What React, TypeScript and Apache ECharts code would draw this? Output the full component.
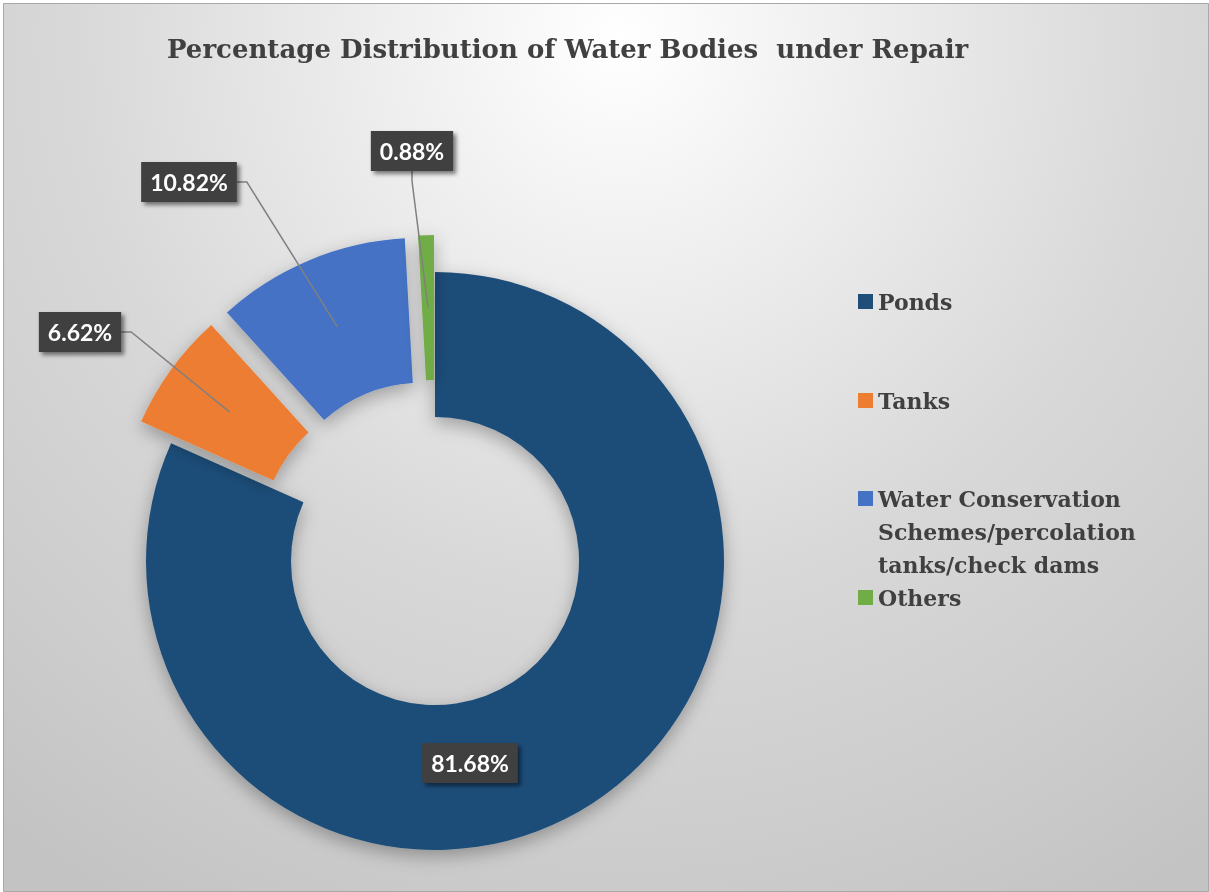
import React, { useEffect, useRef } from 'react';
import * as echarts from 'echarts';

// Share of water bodies under repair, by type (percent)
const categories = ['Ponds', 'Tanks', 'Water Conservation Schemes/percolation tanks/check dams', 'Others'];
const shares = [81.68, 6.62, 10.82, 0.88];
const sliceColors = ['#1f4e79', '#ed7d31', '#4472c4', '#70ad47'];
const explodedSlices = [false, true, true, true];
const legendText = ['Ponds', 'Tanks', 'Water Conservation\nSchemes/percolation\ntanks/check dams', 'Others'];

const TITLE = 'Percentage Distribution of Water Bodies  under Repair';

// ring geometry (px)
const CENTER = [435, 561];
const INNER_R = 144;
const OUTER_R = 289;
const EXPLODE = 37;
// leader lines start mid-ring of the pulled-out slices
const LEADER_R = 254;
const STUB = 10;

// centres of the value boxes, and the side each leader line leaves from
const labelSpots = [
  [470, 763],
  [80, 332],
  [189, 182],
  [412, 151],
];
const leaderSides = ['none', 'right', 'right', 'bottom'];
const legendTops = [285, 384, 482, 581];

// square marker on the first text line of a three-line legend entry
const TALL_ICON = 'path://M0,0L15,0L15,15L0,15Z M0,81L15,81';

const SERIF = '"DejaVu Serif", "Liberation Serif", serif';
const TEXT_GREY = '#404040';

export default function App() {
  const ref = useRef<HTMLDivElement | null>(null);

  useEffect(() => {
    if (!ref.current) return;
    const chart = echarts.init(ref.current, undefined, { renderer: 'svg' });

    const ringData = categories.map((name, i) => ({
      name,
      value: shares[i],
      selected: explodedSlices[i],
      itemStyle: { color: sliceColors[i] },
    }));

    const labelData = categories.map((name, i) =>
      i === 0
        ? { name, value: shares[i], label: { position: 'inside' }, labelLine: { show: false } }
        : { name, value: shares[i] }
    );

    const legends = categories.map((name, i) => {
      const multiLine = legendText[i].includes('\n');
      return {
        data: [name],
        orient: 'vertical',
        left: 858,
        top: legendTops[i],
        padding: 0,
        itemWidth: 15,
        itemHeight: multiLine ? 81 : 15,
        itemGap: 0,
        icon: multiLine ? TALL_ICON : 'rect',
        selectedMode: false,
        itemStyle: { borderWidth: 0 },
        formatter: () => legendText[i],
        textStyle: {
          fontFamily: SERIF,
          fontWeight: 'bold',
          fontSize: 22,
          lineHeight: 33,
          color: TEXT_GREY,
        },
      };
    });

    chart.setOption({
      animation: false,
      graphic: [
        {
          type: 'rect',
          z: -20,
          silent: true,
          shape: { x: 0, y: 0, width: 1209, height: 892 },
          style: { fill: '#ffffff' },
        },
        {
          type: 'rect',
          z: -10,
          silent: true,
          shape: { x: 3.5, y: 3.5, width: 1205, height: 888 },
          style: {
            fill: {
              type: 'radial',
              x: 620,
              y: 40,
              r: 1000,
              global: true,
              colorStops: [
                { offset: 0, color: '#ffffff' },
                { offset: 0.55, color: '#d8d8d8' },
                { offset: 0.8, color: '#cdcdcd' },
                { offset: 1, color: '#c3c3c3' },
              ],
            },
            stroke: '#a9a9a9',
            lineWidth: 1,
          },
        },
      ],
      title: {
        text: TITLE,
        left: 167,
        top: 36,
        padding: 0,
        textStyle: {
          fontFamily: SERIF,
          fontWeight: 'bold',
          fontSize: 26,
          color: TEXT_GREY,
        },
      },
      legend: legends,
      series: [
        {
          type: 'pie',
          name: 'ring',
          z: 2,
          center: CENTER,
          radius: [INNER_R, OUTER_R],
          startAngle: 90,
          clockwise: true,
          selectedMode: 'multiple',
          selectedOffset: EXPLODE,
          silent: true,
          label: { show: false },
          labelLine: { show: false },
          itemStyle: {
            borderWidth: 0,
            shadowBlur: 18,
            shadowOffsetY: 6,
            shadowColor: 'rgba(0,0,0,0.3)',
          },
          select: { itemStyle: { borderWidth: 0 } },
          emphasis: { disabled: true },
          data: ringData,
        },
        {
          type: 'pie',
          name: 'values',
          z: 4,
          center: CENTER,
          radius: [INNER_R, LEADER_R],
          startAngle: 90,
          clockwise: true,
          silent: true,
          avoidLabelOverlap: false,
          itemStyle: { color: 'rgba(0,0,0,0)', borderWidth: 0 },
          emphasis: { disabled: true },
          label: {
            show: true,
            position: 'outside',
            formatter: (p: any) => `${Number(p.value).toFixed(2)}%`,
            color: '#ffffff',
            fontFamily: 'Lato, "Open Sans", sans-serif',
            fontWeight: 'bold',
            fontSize: 23,
            lineHeight: 28,
            backgroundColor: '#3f3f3f',
            padding: [6, 9],
            shadowBlur: 4,
            shadowOffsetX: 3,
            shadowOffsetY: 3,
            shadowColor: 'rgba(0,0,0,0.5)',
          },
          labelLine: {
            show: true,
            length: 10,
            length2: STUB,
            lineStyle: { color: '#808080', width: 1.5 },
          },
          labelLayout: (params: any) => {
            const i = params.dataIndex;
            const [x, y] = labelSpots[i];
            const out: any = { x, y, align: 'center', verticalAlign: 'middle' };
            const start = params.labelLinePoints && params.labelLinePoints[0];
            const w = params.labelRect.width;
            const h = params.labelRect.height;
            if (start && leaderSides[i] === 'right') {
              const ex = x + w / 2;
              out.labelLinePoints = [start, [ex + STUB, y], [ex, y]];
            } else if (start && leaderSides[i] === 'bottom') {
              const ey = y + h / 2;
              out.labelLinePoints = [start, [x, ey + STUB], [x, ey]];
            }
            return out;
          },
          data: labelData,
        },
      ],
    });

    return () => chart.dispose();
  }, []);

  return (
    <div
      ref={ref}
      style={{ position: 'fixed', left: 0, top: 0, width: 1209, height: 892 }}
    />
  );
}
